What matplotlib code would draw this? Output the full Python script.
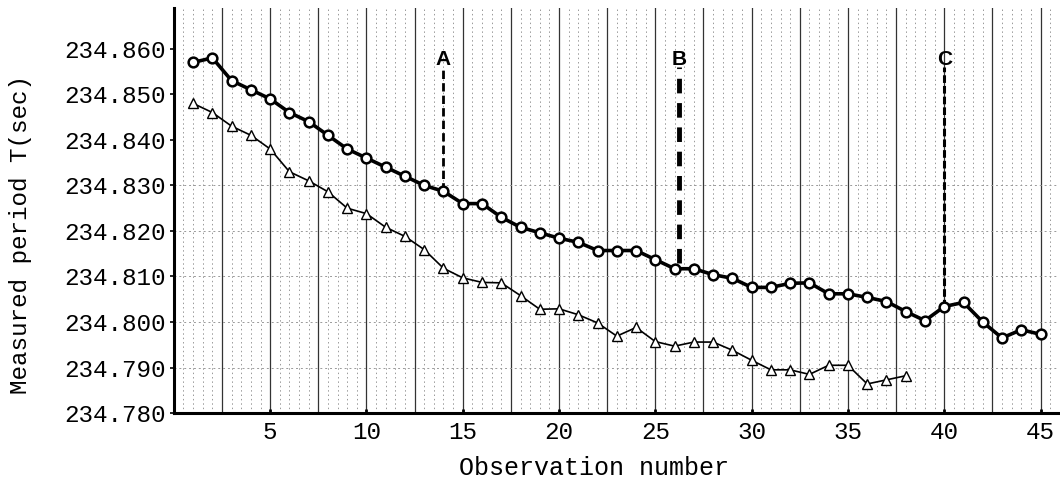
import numpy as np
import matplotlib
matplotlib.use('Agg')
import matplotlib.pyplot as plt

# observation numbers and measured periods
obs_circle = list(range(1, 46))
period_circle = [234.857, 234.858, 234.853, 234.851, 234.849, 234.846, 234.844, 234.841,
                 234.838, 234.836, 234.834, 234.832, 234.830, 234.8287, 234.826, 234.826,
                 234.823, 234.8208, 234.8196, 234.8184, 234.8175, 234.8157, 234.8157, 234.8157,
                 234.8137, 234.8117, 234.8117, 234.8104, 234.8096, 234.8076, 234.8076, 234.8085,
                 234.8086, 234.8062, 234.8062, 234.8054, 234.8045, 234.8023, 234.8003, 234.8034,
                 234.8043, 234.8000, 234.7965, 234.7983, 234.7973]

obs_triangle = list(range(1, 39))
period_triangle = [234.848, 234.846, 234.843, 234.841, 234.838, 234.833, 234.831, 234.8286,
                   234.825, 234.8238, 234.8208, 234.8188, 234.8159, 234.8118, 234.8097, 234.8087,
                   234.8086, 234.8058, 234.8028, 234.8029, 234.8016, 234.7998, 234.7969, 234.7988,
                   234.7957, 234.7947, 234.7956, 234.7956, 234.7938, 234.7916, 234.7895, 234.7895,
                   234.7885, 234.7905, 234.7905, 234.7864, 234.7873, 234.7882]

marker_names = ['A', 'B', 'C']
marker_x = [14, 26.25, 40]
marker_bottom = [234.8287, 234.8129, 234.8034]
marker_top = 234.856

yticks = [234.780, 234.790, 234.800, 234.810, 234.820, 234.830, 234.840, 234.850, 234.860]
xticks = [5, 10, 15, 20, 25, 30, 35, 40, 45]
hgrid = [234.790, 234.800, 234.810, 234.820, 234.830]

mono = 'Liberation Mono'

fig = plt.figure(figsize=(10.6, 4.86), dpi=100)
ax = fig.add_axes([0.164, 0.150, 0.834, 0.834])

# graph paper background
for xv in np.arange(0.5, 46, 0.5):
    if abs(xv / 2.5 - round(xv / 2.5)) < 1e-6:
        ax.axvline(xv, color='#333333', lw=0.9, zorder=1)
    else:
        ax.axvline(xv, color='#999999', lw=0.7, ls=(0, (1.5, 3)), zorder=1)
for yv in hgrid:
    ax.axhline(yv, color='#999999', lw=0.7, ls=(0, (2, 3)), zorder=1)

ax.plot(obs_circle, period_circle, color='black', lw=2.6, marker='o', ms=7,
        mfc='white', mec='black', mew=1.8, zorder=4)
ax.plot(obs_triangle, period_triangle, color='black', lw=1.2, marker='^', ms=6.5,
        mfc='white', mec='black', mew=1.0, zorder=4)

dash_styles = [(0, (3, 1.5)), (0, (3, 2)), (0, (2.5, 1))]
widths = [2.0, 3.5, 2.2]
for name, xv, yb, ds, w in zip(marker_names, marker_x, marker_bottom, dash_styles, widths):
    ax.plot([xv, xv], [yb, marker_top], color='black', lw=w, ls=ds, zorder=3)
    ax.text(xv, marker_top + 0.0016, name, ha='center', va='center', fontsize=15,
            fontweight='bold', family='Liberation Sans', zorder=5)

ax.set_xlim(0, 45.9)
ax.set_ylim(234.780, 234.869)
ax.set_xticks(xticks)
ax.set_yticks(yticks)
ax.set_yticklabels(['%.3f' % v for v in yticks], family=mono, fontsize=17.5)
ax.set_xticklabels([str(v) for v in xticks], family=mono, fontsize=17.5)
ax.tick_params(axis='y', direction='out', length=3, width=1.2, pad=3)
ax.tick_params(axis='x', direction='in', length=3, width=2, pad=6)

for s in ['top', 'right']:
    ax.spines[s].set_visible(False)
ax.spines['left'].set_linewidth(2.2)
ax.spines['bottom'].set_linewidth(2.2)

ax.set_ylabel('Measured period T(sec)', family=mono, fontsize=17.5)
ax.yaxis.set_label_coords(-0.160, 0.44)
ax.set_xlabel('Observation number', family=mono, fontsize=18)
ax.xaxis.set_label_coords(0.475, -0.105)

fig.savefig('out.png', dpi=100)
